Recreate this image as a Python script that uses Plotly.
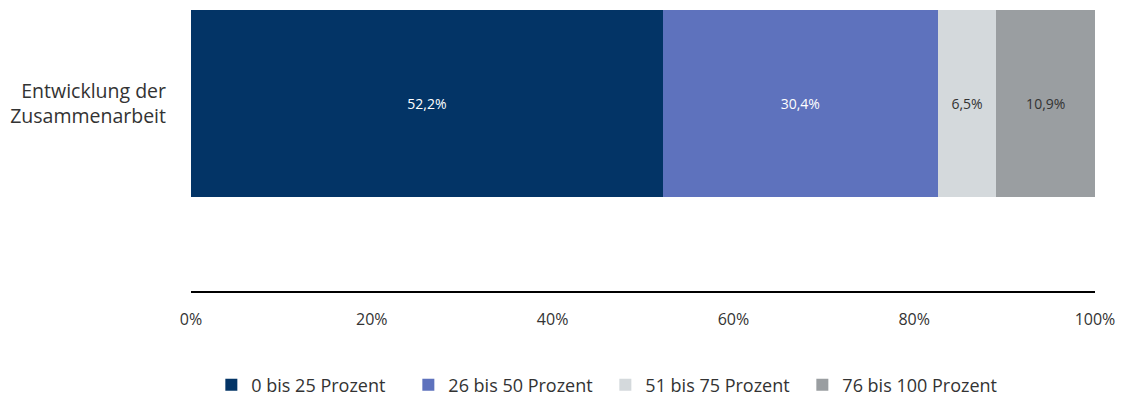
import plotly.graph_objects as go

categories = ["Entwicklung der<br>Zusammenarbeit"]
series_names = ["0 bis 25 Prozent", "26 bis 50 Prozent", "51 bis 75 Prozent", "76 bis 100 Prozent"]
values = [[52.2], [30.4], [6.5], [10.9]]
colors = ["#033466", "#5e72bd", "#d4d9dc", "#9a9ea1"]
text_colors = ["#ffffff", "#ffffff", "#333333", "#333333"]
tick_vals = [0, 20, 40, 60, 80, 100]
tick_text = ["0%", "20%", "40%", "60%", "80%", "100%"]

FONT = "Open Sans, Noto Sans, sans-serif"

fig = go.Figure()
for name, vals, col, tc in zip(series_names, values, colors, text_colors):
    fig.add_trace(go.Bar(
        y=categories, x=vals, name=name, orientation="h",
        marker=dict(color=col, line=dict(width=0)),
        texttemplate="%{x:.1f}%", textposition="inside", insidetextanchor="middle",
        textfont=dict(color=tc, size=14, family=FONT),
        width=1,
    ))

fig.update_layout(
    barmode="stack",
    separators=",.",
    width=1121, height=399,
    margin=dict(l=191, r=26, t=10, b=108, autoexpand=False),
    plot_bgcolor="white", paper_bgcolor="white",
    font=dict(family=FONT, color="#333333"),
    xaxis=dict(range=[0, 100], tickvals=tick_vals, ticktext=tick_text, automargin=False,
               showgrid=False, zeroline=False, showline=True, linecolor="#000000", linewidth=2,
               ticks="", tickfont=dict(size=16, color="#333333"), ticklabelstandoff=13),
    yaxis=dict(range=[-1, 0.5], showgrid=False, zeroline=False, showline=False, automargin=False,
               ticks="", tickfont=dict(size=19.5, color="#333333"), ticklabelstandoff=24),
    legend=dict(orientation="h", xref="container", x=0.54, xanchor="center",
                yref="container", y=0.035, yanchor="middle",
                font=dict(size=18, color="#333333"), entrywidth=152, traceorder="normal"),
    showlegend=True,
)

fig.write_html("out.html")
